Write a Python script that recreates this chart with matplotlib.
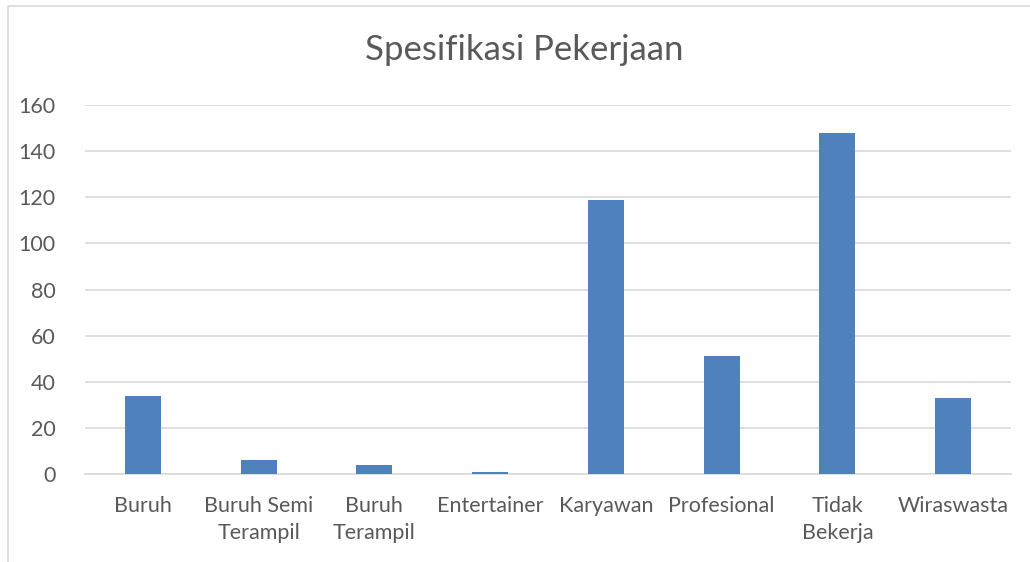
import matplotlib.pyplot as plt
import numpy as np
from matplotlib.patches import Rectangle

plt.rcParams["font.family"] = ["Lato", "DejaVu Sans"]

categories = ["Buruh", "Buruh Semi\nTerampil", "Buruh\nTerampil", "Entertainer",
              "Karyawan", "Profesional", "Tidak\nBekerja", "Wiraswasta"]
values = [34, 6, 4, 1, 119, 51, 148, 33]
yticks = [0, 20, 40, 60, 80, 100, 120, 140, 160]

text_color = "#595959"
bar_color = "#4F81BD"
grid_color = "#D9D9D9"

fig = plt.figure(figsize=(10.3, 5.62), dpi=100)
ax = fig.add_axes([85 / 1030, 88 / 562, 926 / 1030, 369 / 562])

# chart border (only left and top visible in the reference)
fig.patches.append(Rectangle((8 / 1030, -0.1), 1.2, 556 / 562 + 0.1,
                             transform=fig.transFigure, fill=False,
                             edgecolor=grid_color, linewidth=1.2))

x = np.arange(len(categories))
ax.bar(x, values, width=0.31, color=bar_color, zorder=3)

ax.set_xlim(-0.5, len(categories) - 0.5)
ax.set_ylim(0, 160)
ax.set_yticks(yticks)
ax.set_xticks(x, labels=categories)
ax.grid(axis="y", color=grid_color, linewidth=1.2, zorder=0)
for s in ["top", "right", "left"]:
    ax.spines[s].set_visible(False)
ax.spines["bottom"].set_color(grid_color)
ax.spines["bottom"].set_linewidth(1.2)
ax.tick_params(axis="both", length=0, colors=text_color, labelsize=15.5)
ax.tick_params(axis="x", pad=16)
ax.tick_params(axis="y", pad=21)
for lbl in ax.get_xticklabels():
    lbl.set_linespacing(1.45)

fig.text(524 / 1030, 1 - 50 / 562, "Spesifikasi Pekerjaan", ha="center",
         va="center", fontsize=25, color=text_color)

fig.savefig("out.png", dpi=100)
